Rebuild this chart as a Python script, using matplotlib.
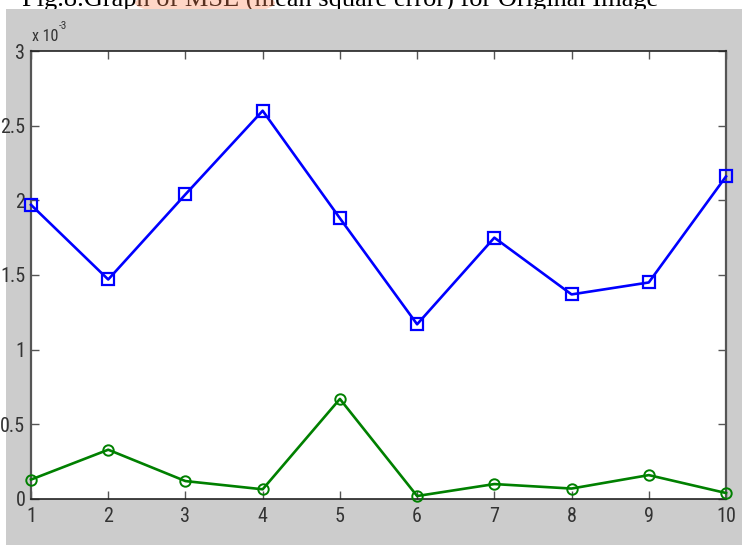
import matplotlib
matplotlib.use("Agg")
import matplotlib.pyplot as plt
from matplotlib import font_manager
from matplotlib.patches import Rectangle, Ellipse

# Data (values in units of 1e-3)
images = [1, 2, 3, 4, 5, 6, 7, 8, 9, 10]
mse_blue = [1.97, 1.47, 2.04, 2.60, 1.88, 1.17, 1.75, 1.37, 1.45, 2.16]
mse_green = [0.13, 0.33, 0.12, 0.065, 0.67, 0.02, 0.10, 0.07, 0.16, 0.04]
yticks = [0, 0.5, 1, 1.5, 2, 2.5, 3]
ytick_labels = ["0", "0.5", "1", "1.5", "2", "2.5", "3"]
caption = "Fig.8.Graph of MSE (mean square error) for Original Image"

# Pick a narrow sans font for the axis text if one is installed
available = {f.name for f in font_manager.fontManager.ttflist}
narrow = None
for name in ("Liberation Sans Narrow", "DejaVu Sans Condensed", "Roboto Condensed",
             "Open Sans Condensed"):
    if name in available:
        narrow = name
        break
if narrow is not None:
    tick_font = [narrow, "DejaVu Sans"]
    tick_size = 14.5
    stretch = "normal"
else:
    tick_font = ["Liberation Sans", "DejaVu Sans"]
    tick_size = 11.5
    stretch = "condensed"

W, H = 742, 545
fig = plt.figure(figsize=(W / 100, H / 100), dpi=100, facecolor="white")

# Caption line above the figure window (partly hidden behind it)
fig.text(22 / W, 1 - 7 / H, caption, family=["Liberation Serif", "DejaVu Serif"],
         fontsize=19, color="black", va="baseline", ha="left", zorder=1)
fig.patches.append(Ellipse((205 / W, 1 - 3 / H), 140 / W, 24 / H,
                           transform=fig.transFigure, facecolor="#ff8a5c",
                           alpha=0.35, edgecolor="none", zorder=2))

# Grey figure window
fig.patches.append(Rectangle((6 / W, 0), 1 - 6 / W, 1 - 9 / H,
                             transform=fig.transFigure, facecolor="#cccccc",
                             edgecolor="none", zorder=3))

ax = fig.add_axes([31 / W, 1 - 499 / H, (726 - 31) / W, (499 - 51) / H], zorder=5)
ax.set_facecolor("white")

ax.plot(images, mse_blue, color="#0000ff", linewidth=1.9, marker="s",
        markersize=8.5, markerfacecolor="none", markeredgewidth=1.6,
        markeredgecolor="#0000ff", clip_on=False, zorder=3)
ax.plot(images, mse_green, color="#008000", linewidth=1.9, marker="o",
        markersize=7.5, markerfacecolor="none", markeredgewidth=1.4,
        markeredgecolor="#008000", clip_on=False, zorder=3)

ax.set_xlim(1, 10)
ax.set_ylim(0, 3)
ax.set_xticks(images)
ax.set_xticklabels([str(i) for i in images])
ax.set_yticks(yticks)
ax.set_yticklabels(ytick_labels)

ax.tick_params(axis="both", direction="in", length=6, width=1.0,
               color="#555555", labelcolor="#333333", labelsize=tick_size,
               top=True, right=True)
ax.tick_params(axis="x", pad=6)
ax.tick_params(axis="y", pad=4)
for lbl in ax.get_xticklabels() + ax.get_yticklabels():
    lbl.set_family(tick_font)
    lbl.set_stretch(stretch)

for side in ("left", "right"):
    ax.spines[side].set_color("#555555")
    ax.spines[side].set_linewidth(1.6)
for side in ("top", "bottom"):
    ax.spines[side].set_color("#222222")
    ax.spines[side].set_linewidth(1.2)

# Exponent label above the y axis
fig.text(32 / W, 1 - 41 / H, "x 10", family=tick_font, fontsize=11.5,
         color="#333333", va="baseline", ha="left", zorder=6)
fig.text(59 / W, 1 - 29 / H, "-3", family=tick_font, fontsize=8,
         color="#333333", va="baseline", ha="left", zorder=6)

fig.savefig("out.png", dpi=100, facecolor="white")
